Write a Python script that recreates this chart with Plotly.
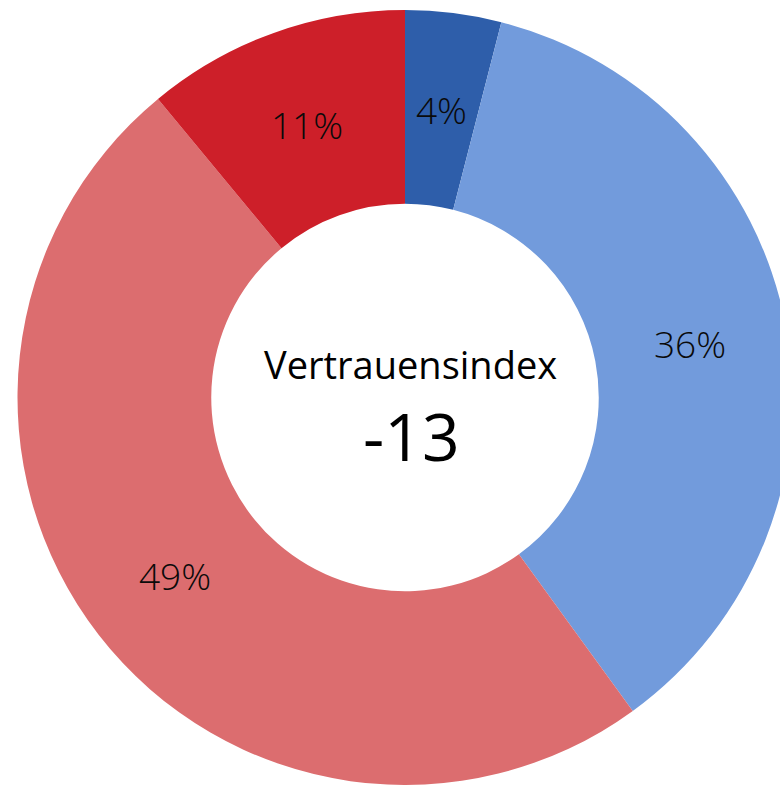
import math
import plotly.graph_objects as go

labels = ["sehr hoch", "eher hoch", "eher niedrig", "sehr niedrig"]
values = [4, 36, 49, 11]
colors = ["#2E5EAA", "#729BDC", "#DC6D6F", "#CD1F29"]
center_title = "Vertrauensindex"
center_value = "-13"

W, H = 810, 785
T, B = 10, 0
HOLE = 0.5

fig = go.Figure(go.Pie(
    labels=labels,
    values=values,
    hole=HOLE,
    sort=False,
    direction="clockwise",
    rotation=0,
    marker=dict(colors=colors, line=dict(color="white", width=0)),
    textinfo="none",
    showlegend=False,
    hoverinfo="label+percent",
))

# percent labels placed at the middle of the ring, derived from the values
plot_w, plot_h = W, H - T - B
R = min(plot_w, plot_h) / 2
r_mid = R * (1 + HOLE) / 2
total = sum(values)
cum = 0
for v in values:
    frac_mid = (cum + v / 2) / total
    cum += v
    ang = 2 * math.pi * frac_mid
    x = 0.5 + r_mid * math.sin(ang) / plot_w
    y = 0.5 + r_mid * math.cos(ang) / plot_h
    fig.add_annotation(x=x, y=y, xref="paper", yref="paper",
                       text=f"{round(100 * v / total)}%", showarrow=False,
                       xanchor="center", yanchor="middle",
                       font=dict(family="Open Sans", size=37, color="#0a0a0a", weight=300))

def py(p):
    return (H - B - p) / plot_h

fig.add_annotation(x=410 / W, y=py(364), xref="paper", yref="paper",
                   text=center_title, showarrow=False, xanchor="center", yanchor="middle",
                   font=dict(family="Open Sans", size=38, color="#000000"))
fig.add_annotation(x=411 / W, y=py(435), xref="paper", yref="paper",
                   text=center_value, showarrow=False, xanchor="center", yanchor="middle",
                   font=dict(family="Open Sans", size=66, color="#000000"))

fig.update_layout(
    width=W, height=H,
    margin=dict(l=0, r=0, t=T, b=B, pad=0),
    paper_bgcolor="white", plot_bgcolor="white",
)

fig.write_html(
    "out.html",
    config={"displayModeBar": False},
    post_script=(
        "document.body.style.margin='0';"
        "document.documentElement.style.overflow='hidden';"
        "document.body.style.overflow='hidden';"
    ),
)
